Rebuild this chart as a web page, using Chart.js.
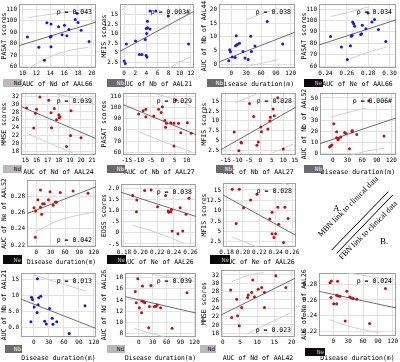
<!DOCTYPE html>
<html><head><meta charset="utf-8">
<script src="https://cdn.jsdelivr.net/npm/chart.js@4"></script>
<style>
html,body{margin:0;padding:0;background:#fff;}
#wrap{position:relative;width:400px;height:362px;overflow:hidden;background:#fff;}
.cell{position:absolute;}
.box{position:absolute;font:6px "DejaVu Sans Mono",monospace;text-align:right;padding-right:1px;box-sizing:border-box;}
.diag{position:absolute;font-family:"Liberation Serif",serif;font-size:8px;white-space:nowrap;transform-origin:0 0;transform:rotate(-45deg);color:#000;line-height:9px;}
.lab{position:absolute;font-family:"Liberation Serif",serif;font-size:9px;color:#000;}
</style></head>
<body><div id="wrap"></div>
<script>
// ---------- data ----------
const p1X=[10.7,12.35,13.15,13.5,14.1,14.0,14.1,14.1,15.2,15.7,16.05,16.4,16.7,17.6,17.85,18.0,18.45,19.6];
const p1Y=[85.8,76.9,65.6,98.2,97.1,85.8,86.4,77.4,94.8,87.8,96,87,92.3,101.0,106.5,98.5,91.7,81.9];
const p1Fit=[[9.48,78.3],[20.6,98.8]];
const p1Up=[[10.8,102.7],[14,105.5],[17,108],[19.5,110]];
const p1Lo=[[10.8,58.6],[13.85,68.4],[16.7,74],[19.5,76.9]];
const p1XT=[10,12,14,16,18,20], p1YT=[60,70,80,90,100,110];

const p2X=[0,0.2,0.4,2.05,2.75,3.2,3.8,4.0,4.2,4.2,4.05,3.95,4.1,4.65,4.65,5.7,7.95,11.6];
const p2Y=[2.9,2.2,7.3,8.1,4.6,4.6,8.5,11.3,11.5,13.2,10.0,4.3,3.9,11.2,15.9,15.9,14.6,7.3];
const p2Fit=[[-0.75,5.4],[12.58,15.8]];
const p2Up=[[-0.5,16.0],[0.3,17.0],[1.2,18.5]];
const p2Lo=[[6.5,-0.6],[9,1.8],[11.9,3.9]];
const p2XT=[0,2,4,6,8,10,12], p2YT=[2.5,5,7.5,10,12.5,15];

const p3X=[-5.2,-3.3,-2,2,7.8,8.5,9.8,11.7,16.3,23.5,27.4,33.9,39,40.4,47.6,72.4,103.7];
const p3Y=[1.3,5.3,4.6,2.7,2.5,6.8,10.4,7.2,7.7,4.7,2.3,1.8,10.2,4.7,6.7,15.6,7.4];
const p3Fit=[[-25,0.9],[128.5,11.7]];
const p3Up=[[29,16.1],[60,18.3],[95,20.3]];
const p3Lo=[[36,-0.6],[65,0.6],[95,1.75]];
const p3XT=[0,30,60,90,120], p3YT=[0,5,10,15,20];

const p4X=[0.2448,0.255,0.2604,0.2634,0.2643,0.2649,0.2655,0.2664,0.2673,0.273,0.2739,0.2745,0.2778,0.2799,0.2835,0.2859,0.2895,0.2964];
const p4Y=[85.9,76.8,65.7,77.9,86.1,87.0,98.6,97.2,95,87.8,88.4,95.8,92.7,106.6,98.6,100.9,92.1,81.6];
const p4Fit=[[0.234,78.5],[0.306,100.6]];
const p4Up=[[0.2454,103.5],[0.265,108],[0.28,112]];
const p4Lo=[[0.259,65],[0.278,71.5],[0.2964,76.5]];
const p4XT=[0.24,0.26,0.28,0.30], p4XL=['0.24','0.26','0.28','0.30'], p4YT=[60,70,80,90,100,110];

const p5X=[15.1,15.75,15.9,16.0,16.3,17.1,17.3,17.35,17.6,17.8,18.0,18.05,18.1,19.1,18.7,19.06,20.0];
const p5Y=[29.0,23.9,27.7,28.7,31.8,31.0,27.8,24.0,28.9,26.0,27.3,26.5,26.8,28.3,19.2,22.0,21.4];
const p5Fit=[[14.6,29.4],[21.35,21.2]];
const p5Up=[[17.8,32.6],[19.5,31.4],[21.3,29.9]];
const p5Lo=[[15.1,22.6],[17.2,20.0],[19.3,17.5]];
const p5XT=[15,16,17,18,19,20,21], p5YT=[18,20,22,24,26,28,30,32];

const p6X=[-10,-8.1,-7,-7,-3.7,-1.7,-0.6,-0.1,0.9,1.6,1.2,3.4,4.7,4.7,6.6,5.6,7.6,10.3,11.9];
const p6Y=[94.2,97.1,98.4,91.8,92.4,98.4,95.4,100.7,88.4,85.9,82.3,86.4,85.9,65.6,85.9,106.7,77.5,86.4,77.0];
const p6Fit=[[-16.5,102.6],[13.9,75.8]];
const p6Up=[[-2.8,112.1],[5,107.2],[11.9,101.3]];
const p6Lo=[[-10,78.4],[1,69],[11.9,60.5]];
const p6XT=[-15,-10,-5,0,5,10], p6YT=[60,70,80,90,100,110];

const p7X=[-11.25,-8.3,-8.1,-9.2,-4.6,-2.8,-1.4,-0.8,0.3,0.55,3.3,4.2,4.4,5.6,6.1,10,7.6];
const p7Y=[7.1,4.5,4.3,2.3,14.4,11.1,3.7,4.55,8.4,7.2,7.9,9.9,10.9,13.0,11.3,2.75,15.9];
const p7Fit=[[-16.96,2.6],[15.5,13.5]];
const p7Up=[[-10.8,14.6],[-5,16],[-1.1,17.0]];
const p7Lo=[[5.1,1.7],[10,2.9],[14.2,4.0]];
const p7XT=[-15,-10,-5,0,5,10,15], p7YT=[2.5,5,7.5,10,12.5,15];

const p8X=[-6.5,-4.6,-2,2,7.8,7.8,10.5,11.8,16.3,24.2,26.8,34,39.2,39.9,49,73.4,104.6];
const p8Y=[5.7,6.6,7.5,26.6,19.5,14.1,12.3,13.5,14.7,18.9,18,4.2,19.5,20.7,17.1,47.6,15.6];
const p8Fit=[[-26.2,8.7],[129.2,32]];
const p8Up=[[-5.2,32.5],[30,36.8],[69,41]];
const p8Lo=[[39.3,-1.2],[70,2.0],[106,4.8]];
const p8XT=[0,30,60,90,120], p8YT=[0,10,20,30,40,50];

const p9X=[-4.7,-2,-1.3,3.3,8.7,8.7,11.3,13.3,16.7,25.3,28.7,35.3,40,42,50,76.7,108];
const p9Y=[0.266,0.2296,0.262,0.276,0.2668,0.288,0.258,0.2712,0.2712,0.276,0.286,0.2692,0.2732,0.2728,0.2848,0.2868,0.284];
const p9Fit=[[-19.4,0.2588],[124.6,0.292]];
const p9Up=[];
const p9Lo=[[-3.3,0.236],[50,0.251],[120,0.2608]];
const p9XT=[0,30,60,90,120], p9YT=[0.22,0.24,0.26,0.28];

const p10X=[0.1905,0.1951,0.1955,0.2049,0.2126,0.2204,0.2301,0.2332,0.234,0.2363,0.2371,0.2379,0.2449,0.2476,0.2507,0.2546,0.2581];
const p10Y=[1.67,0.95,1.47,1.9,1.92,1.17,1.67,0.98,0.92,0.95,1.05,0.08,-0.04,1.13,0.08,0.83,1.55];
const p10Fit=[[0.1765,1.82],[0.2678,0.72]];
const p10Up=[];
const p10Lo=[[0.1905,0.35],[0.22,0.0],[0.2526,-0.48]];
const p10XT=[0.18,0.20,0.22,0.24,0.26], p10XL=['0.18','0.20','0.22','0.24','0.26'];
const p10YT=[-0.5,0,0.5,1,1.5,2], p10YL=['-.5','0','.5','1.0','1.5','2.0'];

const p11X=[0.187,0.1956,0.1917,0.2007,0.2093,0.2171,0.2355,0.2327,0.2355,0.2378,0.2398,0.2425,0.2437,0.2495,0.2511,0.255];
const p11Y=[15.2,15.2,6.9,10.7,12.6,14.0,9.6,8.0,4.4,3.5,4.4,10.8,6.7,2.3,10.8,8.1];
const p11Fit=[[0.1757,13.8],[0.2647,4.0]];
const p11Up=[[0.2405,17.2],[0.2562,16.2]];
const p11Lo=[[0.1859,3.7],[0.2113,1.7],[0.225,0.5]];
const p11XT=[0.18,0.20,0.22,0.24,0.26], p11XL=['0.18','0.20','0.22','0.24','0.26'];
const p11YT=[2.5,5,7.5,10,12.5,15];

const p12X=[-5.9,-4.6,-2.6,0.7,6.5,7.2,8.5,9.8,13.8,21.6,24.9,31.4,36.7,38,45.8,70.7,102];
const p12Y=[1.8,9.5,8.8,6.4,4.7,15.3,7.1,9.3,9.8,2.0,1.1,6.0,2.9,1.0,1.8,-1.9,6.8];
const p12Fit=[[-25.6,8.9],[124,-0.3]];
const p12Up=[[-1.3,16.6],[50,14],[103,11.5]];
const p12Lo=[];
const p12XT=[0,30,60,90,120], p12YT=[0,5,10,15], p12YL=['0.0','5.0','10','15'];

const p13X=[-7.4,-5.4,-2,1.3,6.1,8.1,6.7,10.1,12.8,22.9,21.6,26.3,33.7,36.4,39.8,47.2,72,104];
const p13Y=[15.5,13.5,17.8,12.6,11.7,16.5,13.8,13.7,13.5,12.8,9.0,16.6,12.8,12.8,13.1,12.6,8.9,15.3];
const p13Fit=[[-29.6,14.6],[125.6,11.6]];
const p13Up=[[28.3,18.6],[80,17.9],[122.7,17.3]];
const p13Lo=[[-8.8,8.9],[25,8.0],[55,7.4]];
const p13XT=[0,30,60,90,120], p13YT=[8,10,12,14,16,18];

const p14X=[2.3,2.6,4.05,4.3,4.8,5.5,7.2,7.4,8.4,8.7,9.2,10.3,11.3,12.1,12.1,15.4,18.3];
const p14Y=[28.4,21.8,26.2,22.2,19.8,24.2,26.6,27.2,27.8,30.8,26.8,28.6,29.0,27.8,24.2,31.8,29.0];
const p14Fit=[[-0.5,22.4],[20.96,31.2]];
const p14Up=[[2.6,30.4],[7,31.8],[11.8,32.6]];
const p14Lo=[[7,17.8],[13,20.3],[19.5,22.8]];
const p14XT=[0,5,10,15,20], p14YT=[18,20,22,24,26,28,30,32];

const p15X=[-6.7,-4,-4.7,0.7,6.7,6.7,8.7,10,13.3,24,27.3,33.3,37.3,40,47.3,73.3,105.3];
const p15Y=[0.2821,0.2843,0.263,0.2553,0.266,0.2553,0.2838,0.2651,0.2647,0.2332,0.2711,0.2638,0.2626,0.2617,0.2609,0.2298,0.2745];
const p15Fit=[[-29.5,0.2711],[126.5,0.2498]];
const p15Up=[[28.7,0.2945],[80,0.2895],[128.7,0.2851]];
const p15Lo=[[-8,0.2349],[40,0.2250],[92,0.2183]];
const p15XT=[0,30,60,90,120], p15YT=[0.22,0.24,0.26,0.28];

// ---------- layout / styling ----------
const BLUE='#1414ff', RED='#c41010';
const panels=[
 {x:p1X,y:p1Y,fit:p1Fit,up:p1Up,lo:p1Lo,xt:p1XT,yt:p1YT,xr:[9.48,20.6],yr:[58.9,114.5],cell:[0,0,100,88],plot:[19,2,98,68],color:BLUE,xTitle:'AUC of Nd of AAL66',yTitle:'PASAT scores',p:'p = 0.043',pb:false,box:[3,79,19,8,'Nd','l']},
 {x:p2X,y:p2Y,fit:p2Fit,up:p2Up,lo:p2Lo,xt:p2XT,yt:p2YT,xr:[-0.75,12.58],yr:[1.06,17.7],cell:[100,0,198,88],plot:[120,2,196,68],color:BLUE,xTitle:'AUC of Nb of AAL21',yTitle:'MFIS scores',p:'p = 0.003#',pb:false,box:[107,79,18,8,'Nb','d']},
 {x:p3X,y:p3Y,fit:p3Fit,up:p3Up,lo:p3Lo,xt:p3XT,yt:p3YT,xr:[-25,128.5],yr:[-1.3,21.9],cell:[200,0,299,88],plot:[219,2,297,68],color:BLUE,xTitle:'Disease duration(m)',yTitle:'AUC of Nb of AAL44',p:'p = 0.038',pb:false,box:[207,79,17,8,'Nb','d']},
 {x:p4X,y:p4Y,fit:p4Fit,up:p4Up,lo:p4Lo,xt:p4XT,xl:p4XL,yt:p4YT,xr:[0.234,0.306],yr:[58.3,114.5],cell:[300,0,400,88],plot:[319,2,399,68],color:BLUE,xTitle:'AUC of Ne of AAL66',yTitle:'PASAT scores',p:'p = 0.034',pb:false,box:[304,79,19,8,'Ne','b']},
 {x:p5X,y:p5Y,fit:p5Fit,up:p5Up,lo:p5Lo,xt:p5XT,yt:p5YT,xr:[14.6,21.35],yr:[17.03,32.84],cell:[0,88,100,176],plot:[21,93,99,155],color:RED,xTitle:'AUC of Nd of AAL24',yTitle:'MMSE scores',p:'p = 0.039',pb:false,box:[3,165,19,8,'Nd','l']},
 {x:p6X,y:p6Y,fit:p6Fit,up:p6Up,lo:p6Lo,xt:p6XT,yt:p6YT,xr:[-16.5,13.9],yr:[57.6,112.9],cell:[100,88,200,176],plot:[123,93,199,155],color:RED,xTitle:'AUC of Nb of AAL27',yTitle:'PASAT scores',p:'p = 0.029',pb:false,box:[107,165,18,8,'Nb','d']},
 {x:p7X,y:p7Y,fit:p7Fit,up:p7Up,lo:p7Lo,xt:p7XT,yt:p7YT,xr:[-16.96,15.5],yr:[1.22,17.1],cell:[200,88,300,176],plot:[221,93,299,155],color:RED,xTitle:'AUC of Nb of AAL27',yTitle:'MFIS scores',p:'p = 0.028',pb:false,box:[216,165,17,8,'Nb','d']},
 {x:p8X,y:p8Y,fit:p8Fit,up:p8Up,lo:p8Lo,xt:p8XT,yt:p8YT,xr:[-26.2,129.2],yr:[-1.54,54.5],cell:[300,88,400,176],plot:[320,93,399,155],color:RED,xTitle:'Disease duration(m)',yTitle:'AUC of Nb of AAL52',p:'p = 0.006#',pb:false,box:[304,165,19,8,'Nb','d']},
 {x:p9X,y:p9Y,fit:p9Fit,up:p9Up,lo:p9Lo,xt:p9XT,yt:p9YT,xr:[-19.4,124.6],yr:[0.2176,0.3004],cell:[0,176,100,266],plot:[27,178,99,247],color:RED,xTitle:'Disease duration(m)',yTitle:'AUC of Ne of AAL52',p:'p = 0.042',pb:true,box:[3,255,19,9,'Ne','b']},
 {x:p10X,y:p10Y,fit:p10Fit,up:p10Up,lo:p10Lo,xt:p10XT,xl:p10XL,yt:p10YT,yl:p10YL,xr:[0.1765,0.2666],yr:[-0.635,2.19],cell:[100,176,200,266],plot:[121,184,199,247],color:RED,xTitle:'AUC of Ne of AAL26',yTitle:'EDSS scores',p:'p = 0.038',pb:false,box:[107,255,19,9,'Ne','b']},
 {x:p11X,y:p11Y,fit:p11Fit,up:p11Up,lo:p11Lo,xt:p11XT,xl:p11XL,yt:p11YT,xr:[0.1757,0.2647],yr:[1.22,16.69],cell:[200,176,300,266],plot:[223,183,299,247],color:RED,xTitle:'AUC of Ne of AAL26',yTitle:'MFIS scores',p:'p = 0.028',pb:false,box:[210,255,20,9,'Ne','b']},
 {x:p12X,y:p12Y,fit:p12Fit,up:p12Up,lo:p12Lo,xt:p12XT,yt:p12YT,yl:p12YL,xr:[-25.6,124],yr:[-2.98,17.1],cell:[0,266,100,362],plot:[21,273,97,337],color:BLUE,xTitle:'Disease duration(m)',yTitle:'AUC of Nb of AAL21',p:'p = 0.013',pb:false,box:[5,345,17,8,'Nb','d']},
 {x:p13X,y:p13Y,fit:p13Fit,up:p13Up,lo:p13Lo,xt:p13XT,yt:p13YT,xr:[-29.6,123.5],yr:[7.33,18.85],cell:[100,266,200,362],plot:[125,273,199,337],color:RED,xTitle:'Disease duration(m)',yTitle:'AUC of Nd of AAL26',p:'p = 0.039',pb:false,box:[107,345,18,8,'Nd','l']},
 {x:p14X,y:p14Y,fit:p14Fit,up:p14Up,lo:p14Lo,xt:p14XT,yt:p14YT,xr:[-0.5,20.96],yr:[17.11,33.2],cell:[200,266,300,362],plot:[221,270,295,337],color:RED,xTitle:'AUC of Nd of AAL42',yTitle:'MMSE scores',p:'p = 0.023',pb:true,box:[200,345,16,8,'Nd','l']},
 {x:p15X,y:p15Y,fit:p15Fit,up:p15Up,lo:p15Lo,xt:p15XT,yt:p15YT,xr:[-28.9,126.6],yr:[0.214,0.2944],cell:[300,266,400,362],plot:[319,273,398,336],color:RED,xTitle:'Disease duration(m)',yTitle:'AUC of Ne of AAL26',p:'p = 0.024',pb:false,box:[305,348,20,8,'Ne','b']}
];

Chart.defaults.font.family='"DejaVu Sans Mono", monospace';
Chart.defaults.font.size=6;
Chart.defaults.color='#000';

const wrap=document.getElementById('wrap');
const BOX={l:['#b9b9b9','#222'],d:['#6a6a6a','#eee'],b:['#0a0a0a','#bbb']};

const framePlugin={id:'frame',
 beforeDatasetsDraw(c){const a=c.chartArea,x=c.ctx;x.save();x.strokeStyle='#a0a0a0';x.lineWidth=1;
  x.strokeRect(Math.round(a.left)+0.5,Math.round(a.top)+0.5,Math.round(a.right-a.left)-1,Math.round(a.bottom-a.top)-1);x.restore();},
 afterDatasetsDraw(c,args,opts){const a=c.chartArea,x=c.ctx;x.save();x.font='6.5px "DejaVu Sans Mono", monospace';
  x.fillStyle='#000';x.textAlign='right';x.textBaseline='middle';
  x.fillText(opts.text,a.right-4,opts.bottom?a.bottom-7:a.top+8);x.restore();}
};

function pairs(a){return a.map(function(v){return {x:v[0],y:v[1]};});}

panels.forEach(function(p){
 const c0=p.cell, pl=p.plot;
 const W=c0[2]-c0[0], H=c0[3]-c0[1];
 const div=document.createElement('div');div.className='cell';
 div.style.left=c0[0]+'px';div.style.top=c0[1]+'px';div.style.width=W+'px';div.style.height=H+'px';
 const cv=document.createElement('canvas');cv.width=W;cv.height=H;cv.style.width=W+'px';cv.style.height=H+'px';
 div.appendChild(cv);wrap.appendChild(div);
 const b=document.createElement('div');b.className='box';
 b.style.left=p.box[0]+'px';b.style.top=p.box[1]+'px';b.style.width=p.box[2]+'px';b.style.height=p.box[3]+'px';
 b.style.lineHeight=p.box[3]+'px';b.style.background=BOX[p.box[5]][0];b.style.color=BOX[p.box[5]][1];
 b.textContent=p.box[4];wrap.appendChild(b);

 const pts=p.x.map(function(v,i){return {x:v,y:p.y[i]};});
 const ds=[
  {data:pts,pointRadius:1.5,pointBackgroundColor:p.color,pointBorderWidth:0,showLine:false,order:0,clip:2},
  {data:pairs(p.fit),borderColor:'#6e6e6e',borderWidth:1,pointRadius:0,showLine:true,order:1,clip:0}
 ];
 if(p.up.length) ds.push({data:pairs(p.up),borderColor:'#cfcfcf',borderWidth:1,pointRadius:0,showLine:true,tension:0.4,order:2,clip:0});
 if(p.lo.length) ds.push({data:pairs(p.lo),borderColor:'#cfcfcf',borderWidth:1,pointRadius:0,showLine:true,tension:0.4,order:2,clip:0});
 new Chart(cv,{type:'scatter',data:{datasets:ds},
  options:{responsive:false,animation:false,devicePixelRatio:1,events:[],
   layout:{padding:{left:0,top:pl[1]-c0[1],right:c0[2]-pl[2],bottom:0}},
   plugins:{legend:{display:false},tooltip:{enabled:false},frame:{text:p.p,bottom:p.pb}},
   scales:{
    x:{type:'linear',min:p.xr[0],max:p.xr[1],
     afterBuildTicks:function(s){s.ticks=p.xt.map(function(v){return {value:v};});},
     afterFit:function(s){s.height=c0[3]-pl[3];s.paddingLeft=0;s.paddingRight=0;},
     ticks:{autoSkip:false,maxRotation:0,padding:2,callback:function(v,i){return p.xl?p.xl[i]:String(v);}},
     grid:{color:'#e2e2e2',drawTicks:false},border:{display:false},
     title:{display:true,text:p.xTitle,font:{size:6.5},padding:{top:1,bottom:0}}},
    y:{type:'linear',min:p.yr[0],max:p.yr[1],
     afterBuildTicks:function(s){s.ticks=p.yt.map(function(v){return {value:v};});},
     afterFit:function(s){s.width=pl[0]-c0[0];s.paddingTop=0;s.paddingBottom=0;},
     ticks:{autoSkip:false,padding:2,callback:function(v,i){return p.yl?p.yl[i]:String(v);}},
     grid:{color:'#e2e2e2',drawTicks:false},border:{display:false},
     title:{display:true,text:p.yTitle,font:{size:6.5},padding:{top:0,bottom:1}}}
   }},
  plugins:[framePlugin]});
});

// ---------- annotation A / B ----------
const svgNS='http://www.w3.org/2000/svg';
const svg=document.createElementNS(svgNS,'svg');
svg.setAttribute('width','400');svg.setAttribute('height','362');
svg.style.position='absolute';svg.style.left='0';svg.style.top='0';
[[331.7,250,388.3,191.7],[336.7,253.3,392.7,195]].forEach(function(l){
 const e=document.createElementNS(svgNS,'line');
 e.setAttribute('x1',l[0]);e.setAttribute('y1',l[1]);e.setAttribute('x2',l[2]);e.setAttribute('y2',l[3]);
 e.setAttribute('stroke','#000');e.setAttribute('stroke-width','1');svg.appendChild(e);});
wrap.appendChild(svg);
function addText(cls,txt,x,y){const d=document.createElement('div');d.className=cls;d.textContent=txt;d.style.left=x+'px';d.style.top=y+'px';wrap.appendChild(d);}
addText('diag','MBN link to clinical data',315.5,232);
addText('diag','FBN link to clinical data',337,255);
addText('lab','A.',333,203);
addText('lab','B.',380,236);
</script>
</body></html>
